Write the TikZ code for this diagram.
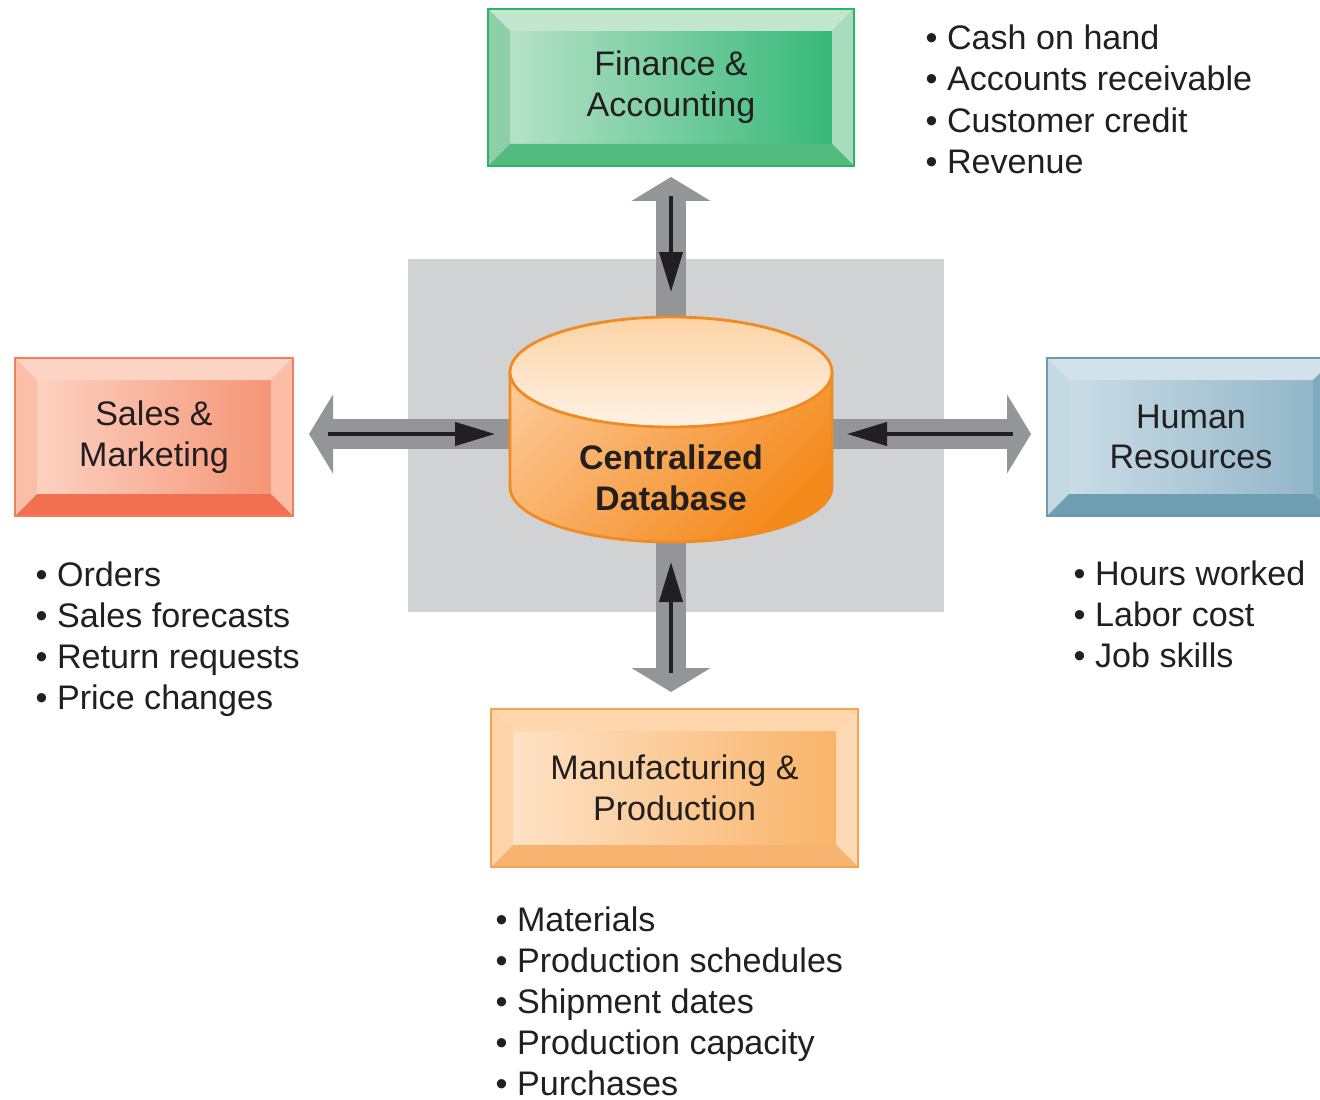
\documentclass[tikz,border=0pt]{standalone}
\usepackage{fontspec}
\setmainfont{Liberation Sans}
\usepackage{xcolor}
\usetikzlibrary{arrows.meta}
\usetikzlibrary{positioning}
\definecolor{ink}{HTML}{231F20}
\definecolor{backgray}{HTML}{D1D2D4}
\definecolor{arrgray}{HTML}{939598}
% green
\definecolor{fingreen}{HTML}{2AB36A}
\definecolor{finface1}{HTML}{BFE4CD}
\definecolor{finface2}{HTML}{2EB673}
\definecolor{fintop}{HTML}{C3E6CF}
\definecolor{finleft}{HTML}{8DCFA6}
\definecolor{finright}{HTML}{A8DCBC}
\definecolor{finbot}{HTML}{52BB7E}
% red
\definecolor{salred}{HTML}{F47D5E}
\definecolor{salface1}{HTML}{FDD7C8}
\definecolor{salface2}{HTML}{F4906F}
\definecolor{saltop}{HTML}{FDD3C4}
\definecolor{salleft}{HTML}{FBBFA9}
\definecolor{salright}{HTML}{FBBDA6}
\definecolor{salbot}{HTML}{F26F50}
% blue
\definecolor{hrblue}{HTML}{6B9BB1}
\definecolor{hrface1}{HTML}{CFE0E9}
\definecolor{hrface2}{HTML}{8DB3C5}
\definecolor{hrtop}{HTML}{D2E2EA}
\definecolor{hrleft}{HTML}{C5D9E3}
\definecolor{hrright}{HTML}{7FA9BC}
\definecolor{hrbot}{HTML}{6F9DB1}
% orange
\definecolor{manorange}{HTML}{F7A24D}
\definecolor{manface1}{HTML}{FEE5CB}
\definecolor{manface2}{HTML}{F8B163}
\definecolor{mantop}{HTML}{FED7AD}
\definecolor{manleft}{HTML}{FDD3A9}
\definecolor{manright}{HTML}{FED9B3}
\definecolor{manbot}{HTML}{F9B370}
% database
\definecolor{dbedge}{HTML}{F28A22}
\definecolor{dbbody1}{HTML}{FCC896}
\definecolor{dbbody2}{HTML}{F48A1C}
\definecolor{dbtop1}{HTML}{FDD3A4}
\definecolor{dbtop2}{HTML}{FFF2E6}
\tikzset{%
	gry/.style={line width=0.3cm,color=arrgray,-{Triangle[length=0.24cm,width=0.78cm]}},
	blk/.style={line width=1.2,color=ink,-{Triangle[length=0.40cm,width=0.23cm]}},
	box/.style={rectangle,draw=#1,line width=0.8,outer sep=0,font=\fontsize{9.7}{11.6}\selectfont,align=center,text=ink},
	item/.style={anchor=base west,inner sep=0,font=\fontsize{9.7}{11.6}\selectfont,text=ink},
	dbtxt/.style={font=\bfseries\fontsize{9.7}{11.6}\selectfont,align=center,text=ink},
	dbline/.style={draw=dbedge,line width=0.8},
}
% bevelled frame round a box: node, top, left, right, bottom, border
\newcommand{\bevel}[6]{%
	\fill[#2] (#1.north west) -- (#1.north east) -- ([shift={(-0.22,-0.22)}]#1.north east) -- ([shift={(0.22,-0.22)}]#1.north west) -- cycle;
	\fill[#3] (#1.north west) -- ([shift={(0.22,-0.22)}]#1.north west) -- ([shift={(0.22,0.22)}]#1.south west) -- (#1.south west) -- cycle;
	\fill[#4] (#1.north east) -- ([shift={(-0.22,-0.22)}]#1.north east) -- ([shift={(-0.22,0.22)}]#1.south east) -- (#1.south east) -- cycle;
	\fill[#5] (#1.south west) -- ([shift={(0.22,0.22)}]#1.south west) -- ([shift={(-0.22,0.22)}]#1.south east) -- (#1.south east) -- cycle;
	\draw[#6,line width=0.8] (#1.north west) rectangle (#1.south east);
}

\begin{document}
\begin{tikzpicture}
	\clip (0,0) rectangle (13.2,10.99);
	\fill[backgray] (4.08,4.87) rectangle (9.44,8.40);
	
	\coordinate (dbc) at (6.71,6.65);
	\coordinate (dbt) at (6.71,7.82);
	\coordinate (dbb) at (6.71,5.57);
	\coordinate (dbl) at (5.10,6.65);
	\coordinate (dbr) at (8.32,6.65);
	
	% departments
	\node (fin) at (6.71,10.115) [box=fingreen,minimum width=3.66cm,minimum height=1.57cm,left color=finface1,right color=finface2] {Finance \&\\Accounting};
	\bevel{fin}{fintop}{finleft}{finright}{finbot}{fingreen}
	\node (sal) at (1.54,6.62) [box=salred,minimum width=2.78cm,minimum height=1.58cm,left color=salface1,right color=salface2] {Sales \&\\Marketing};
	\bevel{sal}{saltop}{salleft}{salright}{salbot}{salred}
	\node (hr) at (11.91,6.62) [box=hrblue,minimum width=2.88cm,minimum height=1.58cm,left color=hrface1,right color=hrface2] {Human\\Resources};
	\bevel{hr}{hrtop}{hrleft}{hrright}{hrbot}{hrblue}
	\node (man) at (6.745,3.11) [box=manorange,minimum width=3.67cm,minimum height=1.58cm,left color=manface1,right color=manface2] {Manufacturing \&\\Production};
	\bevel{man}{mantop}{manleft}{manright}{manbot}{manorange}
	
	% wide grey arrows out of the database
	\draw[gry] (dbc) -- ([yshift=-0.11cm]fin.south);
	\draw[gry] (dbc) -- ([xshift=0.16cm]sal.east |- dbc);
	\draw[gry] (dbc) -- ([xshift=-0.16cm]hr.west |- dbc);
	\draw[gry] (dbc) -- ([yshift=0.17cm]man.north -| dbc);
	
	% database
	\shade[top color=dbbody1,bottom color=dbbody2,shading angle=45] (5.10,7.27) -- (5.10,6.12) arc[start angle=180,end angle=360,x radius=1.61,y radius=0.55] -- (8.32,7.27) arc[start angle=0,end angle=180,x radius=1.61,y radius=0.55] -- cycle;
	\draw[dbline] (5.10,7.27) -- (5.10,6.12) arc[start angle=180,end angle=360,x radius=1.61,y radius=0.55] -- (8.32,7.27);
	\shade[top color=dbtop1,bottom color=dbtop2] (6.71,7.27) ellipse[x radius=1.61,y radius=0.55];
	\draw[dbline] (6.71,7.27) ellipse[x radius=1.61,y radius=0.55];
	\node (db) at (6.71,6.21) [dbtxt] {Centralized\\Database};
	
	% thin black arrows into the database
	\draw[blk,shorten <=0.30cm,shorten >=0.25cm] (fin.south) -- (dbt);
	\draw[blk,shorten <=0.35cm,shorten >=0.15cm] (sal.east |- dbc) -- (dbl);
	\draw[blk,shorten <=0.34cm,shorten >=0.15cm] (hr.west |- dbc) -- (dbr);
	\draw[blk,shorten <=0.36cm,shorten >=0.20cm] (man.north -| dbc) -- (dbb);
	
	% data kept by each department
	\foreach \t [count=\i] in {Cash on hand,Accounts receivable,Customer credit,Revenue}
		\node (fin\i) at (9.25,10.90-0.41*\i) [item] {\textbullet\ \t};
	\foreach \t [count=\i] in {Orders,Sales forecasts,Return requests,Price changes}
		\node (sal\i) at (0.35,5.54-0.41*\i) [item] {\textbullet\ \t};
	\foreach \t [count=\i] in {Hours worked,Labor cost,Job skills}
		\node (hr\i) at (10.73,5.55-0.41*\i) [item] {\textbullet\ \t};
	\foreach \t [count=\i] in {Materials,Production schedules,Shipment dates,Production capacity,Purchases}
		\node (man\i) at (4.95,2.09-0.41*\i) [item] {\textbullet\ \t};
\end{tikzpicture}
\end{document}
